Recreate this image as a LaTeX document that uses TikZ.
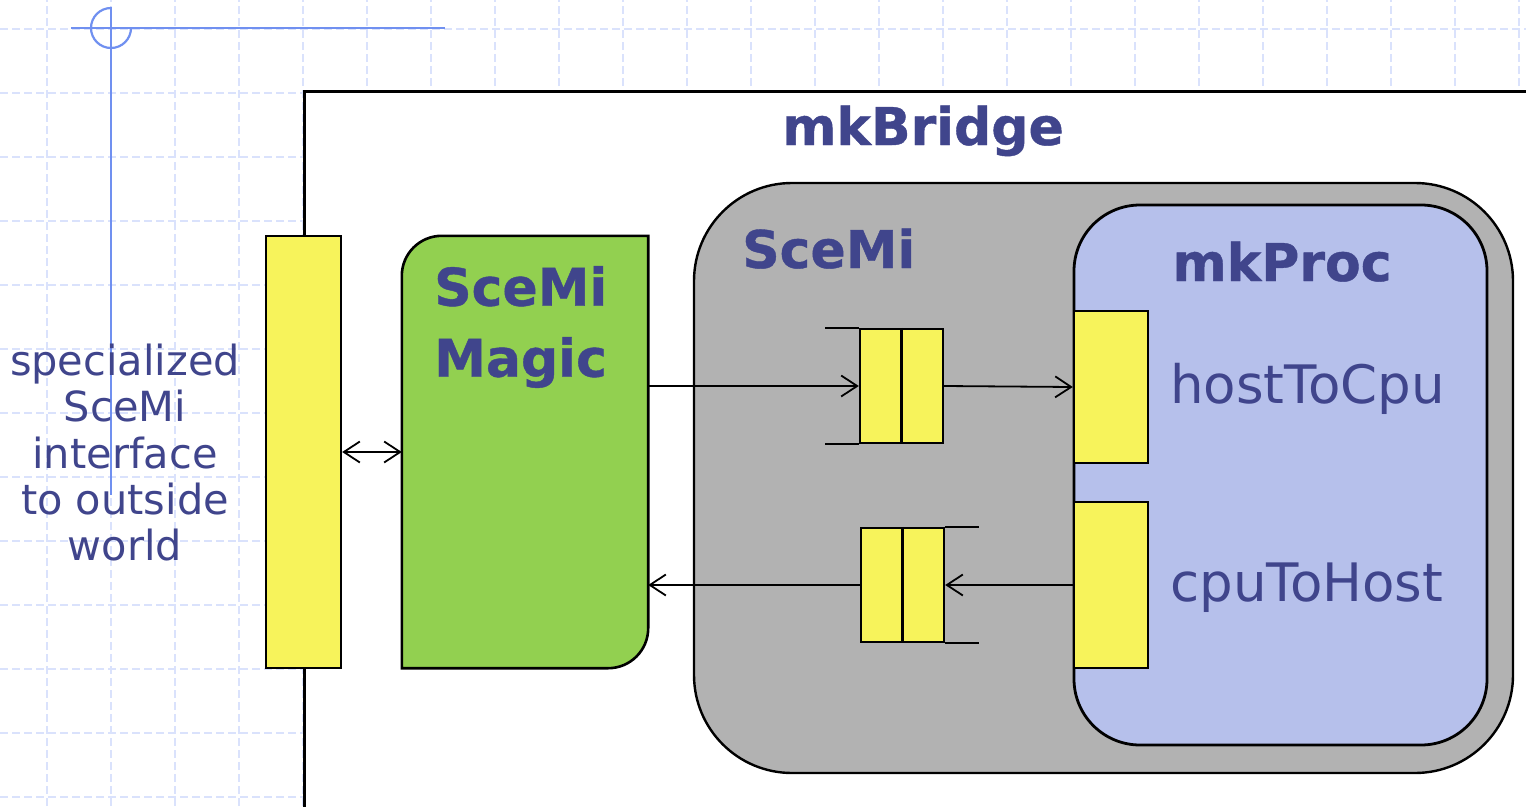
\documentclass[tikz,border=0pt]{standalone}
\usepackage{fontspec}
\setmainfont[BoldFeatures={FakeBold=0.8}]{DejaVu Sans}
\usepackage{tikz}
\usetikzlibrary{arrows.meta}
\definecolor{portyellow}{RGB}{247,243,91}
\definecolor{magicgreen}{RGB}{146,208,80}
\definecolor{scemigray}{RGB}{178,178,178}
\definecolor{procblue}{RGB}{182,192,235}
\definecolor{labelblue}{RGB}{64,69,140}
\definecolor{guideblue}{RGB}{112,144,240}
\definecolor{gridblue}{RGB}{218,226,252}
\tikzstyle{gridline} = [draw=gridblue, line width=1.5pt, dash pattern=on 8pt off 4pt]
\tikzstyle{guide} = [draw=guideblue, line width=2.2pt]
\tikzstyle{bridge} = [rectangle, draw=black, fill=white, line width=3.2pt, minimum width=1240, minimum height=730, anchor=north west]
\tikzstyle{port} = [rectangle, draw=black, fill=portyellow, line width=2.4pt, inner sep=0pt]
\tikzstyle{fifo} = [rectangle, draw=black, fill=portyellow, line width=2.4pt, minimum width=83, minimum height=114, inner sep=0pt]
\tikzstyle{scemibox} = [rectangle, rounded corners=98, draw=black, fill=scemigray, line width=2.4pt, minimum width=819, minimum height=590]
\tikzstyle{procbox} = [rectangle, rounded corners=66, draw=black, fill=procblue, line width=2.8pt, minimum width=413, minimum height=540]
\tikzstyle{title} = [text=labelblue, inner sep=0pt, font=\fontsize{52}{71}\selectfont\bfseries]
\tikzstyle{label} = [text=labelblue, inner sep=0pt, font=\fontsize{53}{62}\selectfont]
\tikzstyle{arrow} = [line width=1.8pt, ->, >={Straight Barb[length=16pt, width=21pt, line width=1.8pt]}]

\begin{document}
\begin{tikzpicture}[x=1pt, y=1pt]
\useasboundingbox (0,0) rectangle (1526,-806);

% background grid and guides
\draw [gridline, step=64, xshift=47, yshift=-29] (-47,29) grid (1479,-777);
\draw [guide] (71,-28) -- (445,-28);
\draw [guide] (111,-7) -- (111,-495);
\draw [guide] (111,-8) arc [start angle=90, end angle=360, radius=20pt];

\node (bridge) [bridge] at (303,-90) {};
\node (bridgetitle) [title, anchor=base] at (923,-145) {mkBridge};

\node (outside) [label, font=\fontsize{41.5}{46.25}\selectfont, align=center, anchor=north] at (125,-344) {specialized\\SceMi\\interface\\to outside\\world};

\node (iface) [port, minimum width=75, minimum height=432] at (303.5,-452) {};

% SceMi magic block, two rounded corners
\node (magic) [rectangle, minimum width=246, minimum height=432] at (525,-452) {};
\draw [draw=black, fill=magicgreen, line width=2.6pt] (magic.south west) -- ([yshift=-40]magic.north west) arc [start angle=180, end angle=90, radius=40pt] -- (magic.north east) -- ([yshift=40]magic.south east) arc [start angle=0, end angle=-90, radius=40pt] -- cycle;
\node (magictitle) [title, align=left, anchor=north west] at (434,-266) {SceMi\\Magic};

\node (scemi) [scemibox] at (1103.5,-478) {};
\node (scemititle) [title, anchor=base west] at (742,-268) {SceMi};

\node (proc) [procbox] at (1280.5,-475) {};
\node (proctitle) [title, anchor=base] at (1282,-281) {mkProc};
\node (hostport) [port, minimum width=74, minimum height=152] at (1111,-387) {};
\node (cpuport) [port, minimum width=74, minimum height=166] at (1111,-585) {};
\node (hostlabel) [label, anchor=base west] at (1170,-403) {hostToCpu};
\node (cpulabel) [label, anchor=base west] at (1170,-601) {cpuToHost};

% fifos
\node (inq) [fifo] at (901.5,-386) {};
\draw [line width=2.4pt] (inq.north) -- (inq.south);
\draw [line width=2.4pt] (inq.north west) -- +(-34,0);
\draw [line width=2.4pt] (inq.south west) -- +(-34,0);
\node (outq) [fifo] at (902.5,-585) {};
\draw [line width=2.4pt] (outq.north) -- (outq.south);
\draw [line width=2.4pt] (outq.north east) -- +(34,0);
\draw [line width=2.4pt] (outq.south east) -- +(34,0);

\draw [arrow] (magic.east |- inq.west) -- (inq.west);
\draw [arrow] (inq.east) -- (hostport.west);
\draw [arrow] (cpuport.west) -- (outq.east);
\draw [arrow] (outq.west) -- (magic.east |- outq.west);
\draw [arrow, <->] (iface.east) -- (magic.west);

\end{tikzpicture}
\end{document}
